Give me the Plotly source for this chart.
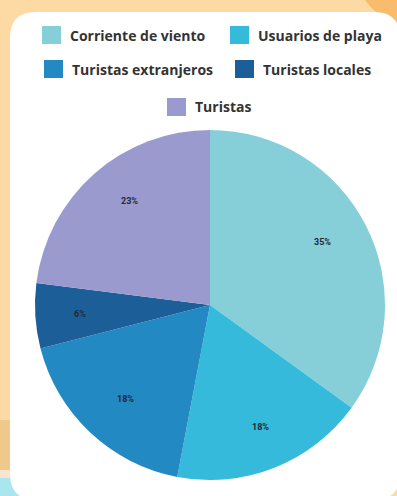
import math
import plotly.graph_objects as go

# Distribución de fuentes (porcentajes)
labels = ["Corriente de viento", "Usuarios de playa", "Turistas extranjeros",
          "Turistas locales", "Turistas"]
values = [35, 18, 18, 6, 23]
colors = ["#86CFD9", "#35BADB", "#2389C3", "#1C5F98", "#9B9ACF"]

# Disposición de la leyenda: (fila, x de la muestra en px)
legend_rows = [0, 0, 1, 1, 2]
legend_x = [42, 230, 44, 235, 167]
row_y = [35, 69, 107]

W, H = 397, 496
CX, CY, R = 210, 305, 175  # centro y radio del pastel en px


def px(x):
    return x / W


def py(y):
    return 1 - y / H


def rounded_rect(x0, y0, x1, y1, r):
    """Path for a rounded rectangle given in pixel units."""
    pts = [
        f"M{px(x0 + r)},{py(y0)}",
        f"L{px(x1 - r)},{py(y0)}",
        f"Q{px(x1)},{py(y0)} {px(x1)},{py(y0 + r)}",
        f"L{px(x1)},{py(y1 - r)}",
        f"Q{px(x1)},{py(y1)} {px(x1 - r)},{py(y1)}",
        f"L{px(x0 + r)},{py(y1)}",
        f"Q{px(x0)},{py(y1)} {px(x0)},{py(y1 - r)}",
        f"L{px(x0)},{py(y0 + r)}",
        f"Q{px(x0)},{py(y0)} {px(x0 + r)},{py(y0)}",
        "Z",
    ]
    return " ".join(pts)


fig = go.Figure(
    go.Pie(
        labels=labels,
        values=values,
        marker=dict(colors=colors, line=dict(width=0)),
        sort=False,
        direction="clockwise",
        rotation=0,
        textinfo="none",
        showlegend=False,
        hoverinfo="label+percent",
        domain=dict(x=[px(CX - R), px(CX + R)], y=[py(CY + R), py(CY - R)]),
    )
)

shapes = [
    # franjas del fondo a la izquierda
    dict(type="rect", xref="paper", yref="paper", x0=0, x1=px(14),
         y0=py(470), y1=py(420), fillcolor="#EFC98B", line=dict(width=0), layer="below"),
    dict(type="rect", xref="paper", yref="paper", x0=0, x1=px(40),
         y0=py(478), y1=py(470), fillcolor="#F6E4CC", line=dict(width=0), layer="below"),
    dict(type="rect", xref="paper", yref="paper", x0=0, x1=px(60),
         y0=0, y1=py(478), fillcolor="#A9E6EF", line=dict(width=0), layer="below"),
    # círculo naranja arriba a la derecha
    dict(type="circle", xref="paper", yref="paper", x0=px(355), x1=px(470),
         y0=py(25), y1=py(-90), fillcolor="#F8BC6C", line=dict(width=0), layer="below"),
    # tarjeta blanca
    dict(type="path", xref="paper", yref="paper",
         path=rounded_rect(10, 12, 400, 500, 26),
         fillcolor="#FFFFFF", line=dict(width=0), layer="below"),
]

annotations = []

# Etiquetas de porcentaje en el punto medio angular de cada sector
total = sum(values)
cum = 0
for v in values:
    mid = (cum + v / 2) / total * 2 * math.pi
    cum += v
    lx = CX + 0.79 * R * math.sin(mid)
    ly = CY - 0.79 * R * math.cos(mid)
    annotations.append(dict(
        x=px(lx), y=py(ly), xref="paper", yref="paper", showarrow=False,
        text=f"{round(v / total * 100)}%",
        font=dict(family="Roboto", size=9, color="#1d2b3a", weight="bold")))

# Leyenda
for lab, col, row, x in zip(labels, colors, legend_rows, legend_x):
    yc = row_y[row]
    shapes.append(dict(
        type="rect", xref="paper", yref="paper",
        x0=px(x), x1=px(x + 19), y0=py(yc + 9), y1=py(yc - 9),
        fillcolor=col, line=dict(width=0), layer="above"))
    annotations.append(dict(
        x=px(x + 26), y=py(yc), xref="paper", yref="paper",
        xanchor="left", yanchor="middle", showarrow=False, text=lab,
        font=dict(family="Open Sans", size=14, color="#333333", weight="bold")))

fig.update_layout(
    width=W, height=H,
    margin=dict(l=0, r=0, t=0, b=0),
    paper_bgcolor="#FDDAA4",
    plot_bgcolor="rgba(0,0,0,0)",
    shapes=shapes,
    annotations=annotations,
)

fig.write_html("out.html", config={"displayModeBar": False})
